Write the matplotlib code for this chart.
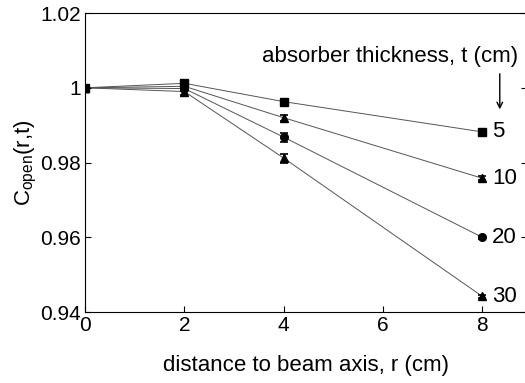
import matplotlib.pyplot as plt

plt.rcParams['font.family'] = ['Liberation Sans', 'DejaVu Sans']

r = [0, 2, 4, 8]
c_5 = [1.0, 1.0012, 0.9963, 0.9882]
c_10 = [1.0, 1.0004, 0.9920, 0.9758]
c_20 = [1.0, 0.9998, 0.9868, 0.9600]
c_30 = [1.0, 0.9990, 0.9812, 0.9442]
err_5 = [0.0003, 0.0008, 0.0006, 0.0008]
err_10 = [0.0003, 0.0006, 0.0008, 0.0005]
err_20 = [0.0003, 0.0006, 0.0012, 0.0004]
err_30 = [0.0003, 0.0008, 0.0012, 0.0005]
thickness = ['5', '10', '20', '30']

fig = plt.figure(figsize=(5.25, 3.83), dpi=100)
ax = fig.add_axes([0.162, 0.185, 0.842, 0.781])

series = [(c_5, err_5, 's'), (c_10, err_10, '^'), (c_20, err_20, 'o'), (c_30, err_30, '^')]
for (c, e, m), lab in zip(series, thickness):
    ax.plot(r, c, color='#555555', lw=0.7, zorder=1)
    ax.errorbar(r, c, yerr=e, fmt=m, color='black', ms=5.5, capsize=3,
                elinewidth=1.2, capthick=1.2, zorder=2)
    ax.text(8.2, c[-1], lab, fontsize=16, va='center', ha='left')

ax.text(8.71, 1.0085, 'absorber thickness, t (cm)', fontsize=16, ha='right', va='center')
ax.annotate('', xy=(8.35, 0.9935), xytext=(8.35, 1.0045),
            arrowprops=dict(arrowstyle='->', color='black', lw=1))

ax.set_xlim(0, 8.9)
ax.set_ylim(0.94, 1.02)
ax.set_xticks([0, 2, 4, 6, 8])
ax.set_yticks([0.94, 0.96, 0.98, 1.0, 1.02])
ax.set_yticklabels(['0.94', '0.96', '0.98', '1', '1.02'])
ax.tick_params(direction='in', labelsize=15, right=True, length=4, pad=3)
ax.set_xlabel('distance to beam axis, r (cm)', fontsize=16, labelpad=14)
ax.set_ylabel(r'C$_{\mathregular{open}}$(r,t)', fontsize=16, labelpad=1)

fig.savefig('out.png', dpi=100)
